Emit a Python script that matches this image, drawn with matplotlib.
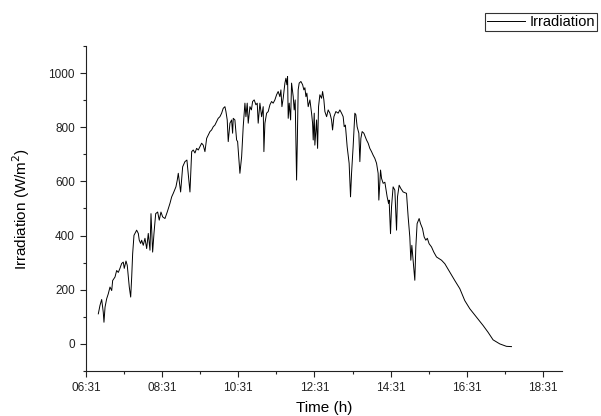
import matplotlib
matplotlib.use("Agg")
import matplotlib.pyplot as plt
from matplotlib.ticker import FixedLocator, FuncFormatter, MultipleLocator

plt.rcParams['font.family'] = ['Liberation Sans', 'DejaVu Sans']

# time in minutes after midnight
time_min = [
    410.4, 413.0, 415.7, 418.2, 419.3, 421.0, 423.6, 426.1, 428.8, 431.5,
    433.0, 436.7, 439.3, 441.9, 444.5, 447.2, 449.7, 451.3, 454.0, 456.0,
    459.2, 461.4, 463.0, 464.5, 466.6, 470.8, 473.4, 474.9, 477.1, 478.7,
    481.2, 483.9, 486.6, 489.1, 491.8, 493.4, 496.0, 498.1, 500.8, 503.9,
    506.4, 509.1, 511.8, 515.4, 519.0, 523.3, 526.0, 528.5, 532.7, 534.8,
    536.4, 540.1, 543.3, 546.9, 550.0, 554.8, 557.5, 560.0, 562.7, 565.3,
    567.9, 570.5, 573.2, 575.7, 578.4, 581.1, 583.6, 586.3, 588.9, 591.5,
    594.1, 596.8, 599.3, 602.0, 604.7, 607.2, 609.9, 611.5, 613.5, 615.1,
    617.8, 620.4, 622.0, 623.0, 625.6, 628.3, 629.9, 632.4, 633.5, 636.2,
    638.7, 641.4, 643.0, 645.0, 646.6, 649.3, 651.6, 653.5, 656.0, 658.7,
    660.8, 662.3, 665.0, 667.7, 670.2, 671.3, 672.9, 675.6, 678.1, 680.8,
    683.4, 685.9, 688.6, 691.3, 693.8, 696.5, 698.1, 699.7, 701.7, 704.4,
    706.0, 707.5, 708.6, 709.6, 711.2, 713.4, 714.9, 717.5, 719.0, 720.6,
    722.8, 724.0, 725.3, 726.9, 729.6, 732.3, 734.3, 735.9, 737.5, 739.0,
    741.1, 743.8, 746.4, 748.0, 749.0, 750.6, 751.6, 754.3, 755.9, 757.4,
    759.5, 762.2, 763.8, 765.8, 767.4, 770.1, 772.6, 775.3, 777.9, 779.5,
    781.6, 784.7, 788.3, 791.0, 793.7, 796.2, 797.8, 799.7, 802.5, 805.6,
    807.8, 809.4, 811.9, 814.6, 816.2, 818.2, 820.9, 822.5, 824.1, 826.1,
    828.8, 833.0, 835.6, 838.2, 840.9, 843.4, 846.1, 848.8, 851.3, 852.4,
    855.1, 856.7, 859.2, 861.9, 865.5, 867.7, 868.6, 870.8, 872.4, 874.9,
    877.6, 880.3, 881.8, 884.4, 887.0, 890.7, 896.0, 898.6, 901.2, 902.8,
    904.4, 906.4, 909.1, 910.7, 912.7, 915.9, 918.1, 921.2, 923.8, 926.4,
    928.8, 931.6, 935.4, 939.0, 943.3, 951.2, 956.4, 964.2, 972.1, 980.0,
    987.8, 995.7, 1006.3, 1016.7, 1024.5, 1032.4, 1043.0, 1053.5, 1061.4,
]
irradiation = [
    111, 142, 164, 117, 80, 136, 167, 185, 210, 197,
    234, 247, 271, 264, 279, 297, 302, 279, 306, 290,
    210, 173, 247, 333, 401, 420, 408, 383, 371, 383,
    364, 390, 352, 408, 346, 481, 339, 408, 481, 487,
    457, 487, 469, 463, 487, 519, 543, 556, 580, 605,
    630, 561, 654, 673, 679, 561, 710, 716, 705, 722,
    716, 728, 741, 734, 710, 759, 771, 784, 790, 802,
    808, 821, 833, 839, 852, 870, 876, 858, 827, 747,
    815, 827, 778, 833, 827, 753, 747, 667, 630, 691,
    802, 889, 839, 889, 815, 876, 864, 895, 901, 883,
    889, 815, 889, 839, 876, 710, 815, 852, 858, 883,
    895, 889, 901, 920, 932, 913, 938, 876, 907, 963,
    981, 957, 987, 833, 889, 827, 963, 913, 864, 901,
    605, 753, 938, 963, 969, 957, 938, 946, 913, 926,
    876, 901, 852, 815, 753, 852, 734, 827, 722, 876,
    920, 907, 932, 901, 858, 839, 864, 852, 827, 790,
    839, 858, 852, 864, 852, 839, 802, 808, 728, 667,
    543, 630, 728, 852, 846, 802, 778, 673, 759, 784,
    778, 753, 741, 722, 710, 697, 685, 667, 630, 531,
    642, 611, 593, 597, 543, 519, 531, 407, 506, 580,
    568, 420, 543, 586, 574, 561, 556, 469, 395, 309,
    364, 309, 235, 358, 444, 463, 444, 426, 395, 383,
    390, 370, 358, 339, 321, 309, 296, 265, 234, 204,
    160, 130, 99, 68, 43, 15, 0, -9, -10,
]

x_start = 391          # 06:31
x_end = 391 + 750      # 19:01
major_ticks = [391 + 120 * k for k in range(7)]
y_ticks = [0, 200, 400, 600, 800, 1000]

fig = plt.figure(figsize=(6.01, 4.16), dpi=100)
ax = fig.add_axes([0.1431, 0.1082, 0.7920, 0.7812])

ax.plot(time_min, irradiation, color='black', linewidth=0.7, label='Irradiation')

ax.set_xlim(x_start, x_end)
ax.set_ylim(-100, 1100)
ax.xaxis.set_major_locator(FixedLocator(major_ticks))
ax.xaxis.set_minor_locator(FixedLocator([t + 60 for t in major_ticks]))
ax.xaxis.set_major_formatter(FuncFormatter(lambda v, p: f"{int(v)//60:02d}:{int(v)%60:02d}"))
ax.yaxis.set_major_locator(FixedLocator(y_ticks))
ax.yaxis.set_minor_locator(MultipleLocator(100))

for s in ['top', 'right']:
    ax.spines[s].set_visible(False)
for s in ['left', 'bottom']:
    ax.spines[s].set_linewidth(0.8)
    ax.spines[s].set_color('#222222')

ax.tick_params(which='major', direction='out', length=4, width=0.8, labelsize=8.5,
               colors='#222222', pad=4)
ax.tick_params(which='minor', direction='out', length=2.5, width=0.8, colors='#222222')

ax.set_xlabel('Time (h)', fontsize=11, labelpad=5)
ax.set_ylabel('Irradiation (W/m$^2$)', fontsize=11, labelpad=12)

leg = fig.legend(loc='upper right', bbox_to_anchor=(0.9933, 0.9688), fontsize=10.5,
                 frameon=True, fancybox=False, handlelength=2.6, borderpad=0.15,
                 handletextpad=0.3, borderaxespad=0)
leg.get_frame().set_edgecolor('black')
leg.get_frame().set_linewidth(0.8)

fig.savefig('out.png', dpi=100)
